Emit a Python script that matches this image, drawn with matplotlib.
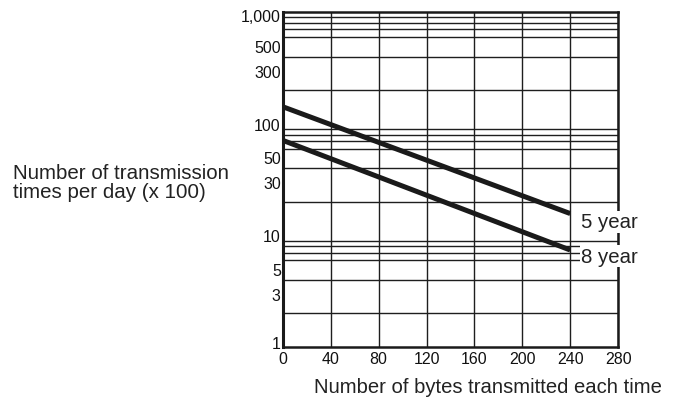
import matplotlib
matplotlib.use("Agg")
import matplotlib.pyplot as plt
from matplotlib.ticker import FixedLocator, LogLocator, NullFormatter
from matplotlib.transforms import ScaledTranslation

# ==========================
# DATA
# ==========================
bytes_per_time = [0, 240]
five_year = [142, 15.7]
eight_year = [71, 7.4]

x_ticks = [0, 40, 80, 120, 160, 200, 240, 280]
y_ticks = [1, 3, 5, 10, 30, 50, 100, 300, 500, 1000]
y_tick_labels = ["1", "3", "5", "10", "30", "50", "100", "300", "500", "1,000"]

# ==========================
# FIGURE
# ==========================
plt.rcParams["font.family"] = ["Liberation Sans", "DejaVu Sans"]

fig = plt.figure(figsize=(6.8, 4.1), dpi=100)
ax = fig.add_axes([0.416, 0.151, 0.493, 0.817])

ax.plot(bytes_per_time, five_year, color="#1a1a1a", lw=3.6, solid_capstyle="butt", zorder=3)
ax.plot(bytes_per_time, eight_year, color="#1a1a1a", lw=3.6, solid_capstyle="butt", zorder=3)

ax.set_yscale("log")
ax.set_xlim(0, 280)
ax.set_ylim(1, 1000)

# grid
ax.xaxis.set_major_locator(FixedLocator(x_ticks))
ax.yaxis.set_major_locator(FixedLocator(y_ticks))
ax.yaxis.set_minor_locator(LogLocator(base=10, subs=range(1, 10)))
ax.yaxis.set_minor_formatter(NullFormatter())
ax.set_yticklabels(y_tick_labels)
ax.grid(True, which="minor", axis="y", color="#1e1e1e", lw=1.0)
ax.grid(True, which="major", axis="x", color="#1e1e1e", lw=1.0)

for lab in ax.get_xticklabels() + ax.get_yticklabels():
    lab.set_fontsize(11.5)
    lab.set_color("#111111")

ax.tick_params(which="both", length=0)
ax.tick_params(axis="y", pad=1.5)
ax.tick_params(axis="x", pad=3)

# keep the "1" off the "0"
ylabs = ax.get_yticklabels()
ylabs[0].set_transform(ylabs[0].get_transform() + ScaledTranslation(0, 4 / 72, fig.dpi_scale_trans))
ylabs[-1].set_transform(ylabs[-1].get_transform() + ScaledTranslation(0, -2 / 72, fig.dpi_scale_trans))

for side in ["left", "bottom", "top", "right"]:
    ax.spines[side].set_color("#1a1a1a")
ax.spines["left"].set_linewidth(2.2)
ax.spines["bottom"].set_linewidth(1.8)
ax.spines["top"].set_linewidth(1.8)
ax.spines["right"].set_linewidth(1.8)

# line labels
box = dict(facecolor="white", edgecolor="none", pad=1)
ax.text(249, 13.3, "5 year", fontsize=14.7, color="#222222", va="center", ha="left",
        bbox=box, clip_on=False, zorder=4)
ax.text(249, 6.5, "8 year", fontsize=14.7, color="#222222", va="center", ha="left",
        bbox=box, clip_on=False, zorder=4)

# axis titles
fig.text(13 / 680, 1 - 183 / 410, "Number of transmission\ntimes per day (x 100)",
         fontsize=14.8, color="#222222", ha="left", va="center", linespacing=0.95)
fig.text(488 / 680, 1 - 388 / 410, "Number of bytes transmitted each time",
         fontsize=14.6, color="#222222", ha="center", va="center")

fig.savefig("out.png", dpi=100)
